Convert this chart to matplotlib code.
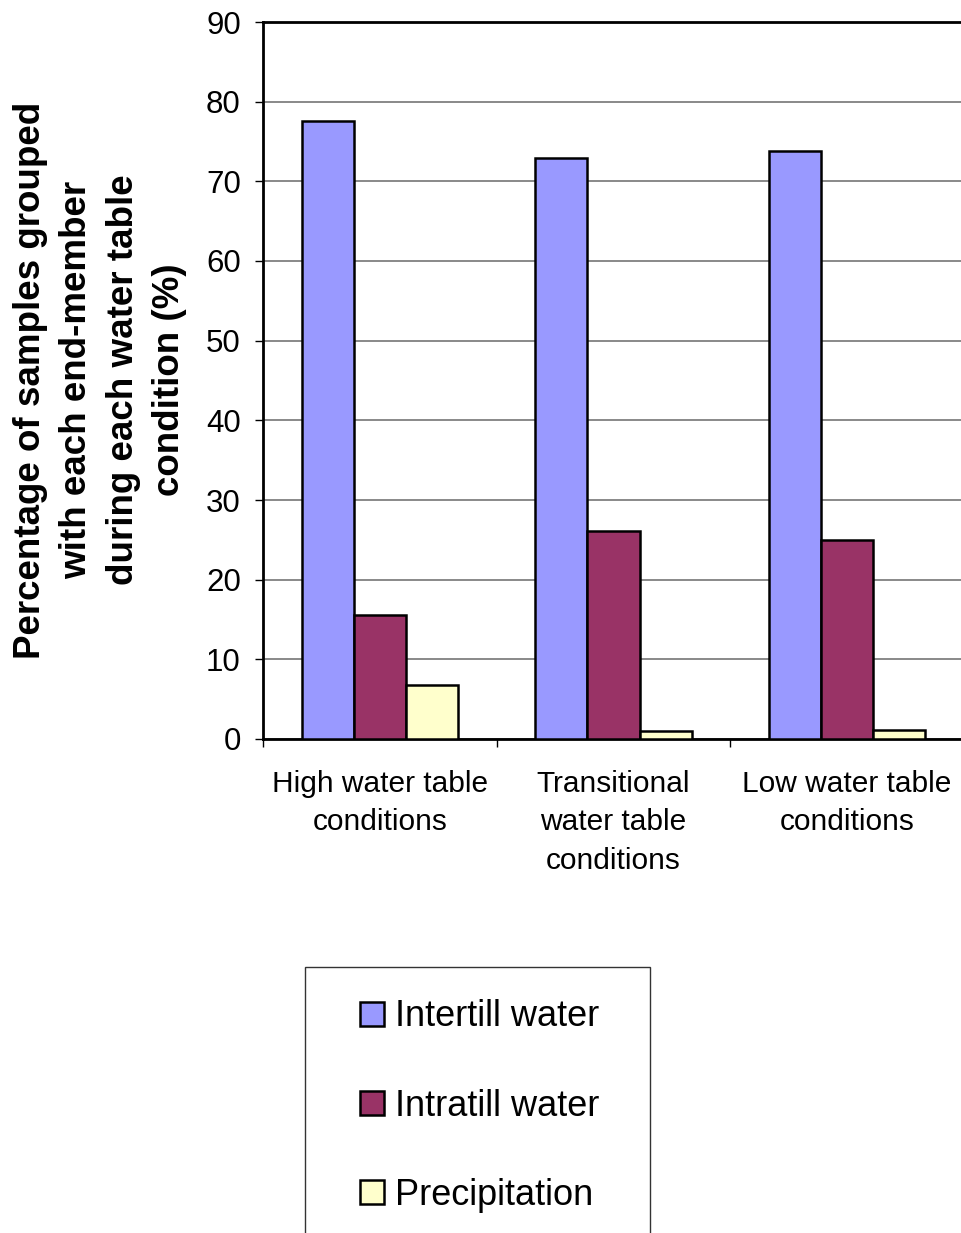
import matplotlib.pyplot as plt
import numpy as np
from matplotlib.patches import Rectangle

plt.rcParams['font.family'] = ['Liberation Sans', 'DejaVu Sans']

conditions = ['High water table\nconditions',
              'Transitional\nwater table\nconditions',
              'Low water table\nconditions']
series_names = ['Intertill water', 'Intratill water', 'Precipitation']
intertill = [77.6, 72.9, 73.8]
intratill = [15.6, 26.1, 25.0]
precipitation = [6.8, 1.0, 1.1]
colors = ['#9999FF', '#993366', '#FFFFCC']

W, H = 961, 1233
fig = plt.figure(figsize=(W / 100, H / 100), dpi=100)
ax = fig.add_axes([263 / W, 1 - 739 / H, 701 / W, 717 / H])

x = np.arange(len(conditions))
bw = 0.223
for i, (vals, name) in enumerate(zip([intertill, intratill, precipitation], series_names)):
    ax.bar(x + (i - 1) * bw, vals, bw, color=colors[i], edgecolor='black',
           linewidth=1.8, label=name, zorder=3)

ax.set_xlim(-0.5, 2.5)
ax.set_ylim(0, 90)
ax.set_yticks(np.arange(0, 91, 10))
ax.yaxis.grid(True, color='#808080', linewidth=1.3, zorder=0)
ax.tick_params(axis='y', labelsize=22.5, length=6, width=1, pad=10)

# category boundaries get the tick marks, labels sit at the centres
ax.set_xticks([-0.5, 0.5, 1.5])
ax.set_xticklabels([])
ax.tick_params(axis='x', which='major', length=6, width=1)
ax.set_xticks(x, minor=True)
ax.set_xticklabels(conditions, minor=True, fontsize=21.5, linespacing=1.48)
ax.tick_params(axis='x', which='minor', length=0, pad=22)

for s in ['left', 'bottom', 'top']:
    ax.spines[s].set_linewidth(2)
    ax.spines[s].set_color('black')
ax.spines['right'].set_visible(False)

fig.text(100 / W, 1 - 380 / H,
         'Percentage of samples grouped\nwith each end-member\nduring each water table\ncondition (%)',
         rotation=90, ha='center', va='center', multialignment='center',
         fontsize=26.5, fontweight='bold', linespacing=1.42)

fig.patches.append(Rectangle((305 / W, -0.01), 345 / W, 1 - 967 / H + 0.01,
                             transform=fig.transFigure, fill=False,
                             edgecolor='#333333', linewidth=1))
handles, labels = ax.get_legend_handles_labels()
fig.legend(handles, labels, loc='upper left',
           bbox_to_anchor=(346 / W, 1 - 985 / H), borderaxespad=0,
           frameon=False, fontsize=26, handlelength=0.65, handleheight=0.65,
           handletextpad=0.3, labelspacing=1.5)

fig.savefig('out.png', dpi=100)
